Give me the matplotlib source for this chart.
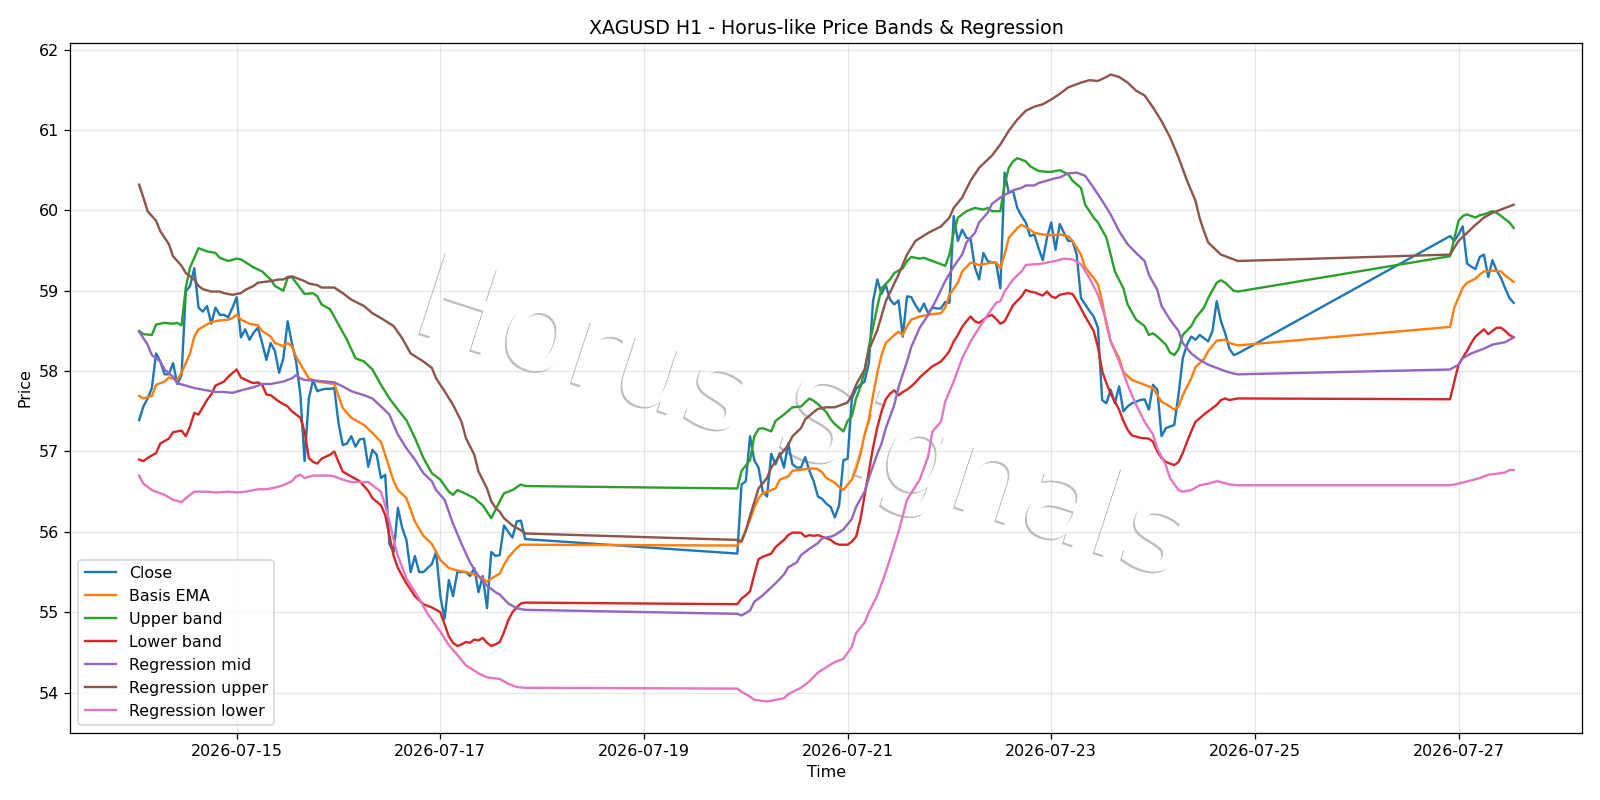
import matplotlib
matplotlib.use("Agg")
import pandas as pd
import matplotlib.pyplot as plt
import matplotlib.dates as mdates
import matplotlib.patheffects as pe

# ---- datos (horas desde 2026-07-14 00:00) ----
T0 = pd.Timestamp("2026-07-14 00:00")

close_hours = list(range(1, 93)) + list(range(142, 261)) + list(range(310, 326))
close_vals = [
    57.39, 57.56, 57.66, 57.79, 58.22, 58.12, 57.96, 57.96, 58.10, 57.84,
    57.95, 58.99, 59.06, 59.28, 58.79, 58.74, 58.81, 58.59, 58.79, 58.70,
    58.70, 58.67, 58.79, 58.92, 58.42, 58.52, 58.39, 58.48, 58.54, 58.35,
    58.14, 58.35, 58.25, 57.98, 58.16, 58.62, 58.35, 58.12, 57.71, 56.88,
    57.66, 57.89, 57.75, 57.77, 57.78, 57.78, 57.79, 57.35, 57.08, 57.10,
    57.19, 57.06, 57.15, 57.16, 56.81, 57.02, 56.96, 56.67, 56.71, 55.85,
    55.75, 56.30, 56.05, 55.90, 55.50, 55.70, 55.50, 55.50, 55.55, 55.60,
    55.75, 55.20, 54.92, 55.40, 55.20, 55.50, 55.50, 55.50, 55.45, 55.55,
    55.25, 55.45, 55.05, 55.75, 55.70, 55.71, 56.08, 56.00, 55.93, 56.13,
    56.14, 55.91,
    # semana 2
    55.73, 56.59, 56.63, 57.19, 56.89, 56.80, 56.50, 56.44, 56.97, 56.84,
    56.98, 56.80, 57.10, 56.84, 56.80, 56.80, 56.93, 56.76, 56.63, 56.44,
    56.41, 56.35, 56.31, 56.18, 56.33, 56.89, 56.91, 57.66, 57.78, 57.83,
    57.87, 58.10, 58.87, 59.14, 58.96, 59.07, 58.89, 58.83, 58.88, 58.43,
    58.93, 58.92, 58.82, 58.74, 58.84, 58.72, 58.79, 58.78, 58.78, 58.86,
    58.85, 59.93, 59.62, 59.76, 59.66, 59.64, 59.29, 59.14, 59.47, 59.37,
    59.35, 59.35, 59.03, 60.47, 60.22, 60.24, 60.03, 59.93, 59.85, 59.68,
    59.70, 59.53, 59.38, 59.66, 59.85, 59.51, 59.83, 59.72, 59.62, 59.62,
    59.45, 58.91, 58.83, 58.75, 58.68, 58.54, 57.64, 57.60, 57.77, 57.60,
    57.81, 57.50, 57.56, 57.60, 57.62, 57.64, 57.65, 57.52, 57.83, 57.77,
    57.19, 57.29, 57.31, 57.33, 57.71, 58.16, 58.33, 58.43, 58.39, 58.45,
    58.41, 58.37, 58.50, 58.87, 58.62, 58.47, 58.28, 58.20, 58.22,
    # semana 3
    59.68, 59.62, 59.70, 59.80, 59.34, 59.30, 59.27, 59.42, 59.45, 59.17,
    59.38, 59.25, 59.16, 59.03, 58.91, 58.85,
]

ema_pts = [
    (1, 57.69), (2, 57.66), (4, 57.69), (5, 57.83), (7, 57.87), (8, 57.92), (10, 57.89),
    (11, 57.98), (13, 58.22), (14, 58.43), (15, 58.52), (17, 58.58), (18, 58.61), (20, 58.63),
    (22, 58.64), (23, 58.66), (24, 58.70), (25, 58.64), (27, 58.59), (29, 58.57), (30, 58.50),
    (32, 58.43), (33, 58.35), (35, 58.31), (36, 58.35), (37, 58.31), (38, 58.18), (40, 58.00),
    (41, 57.91), (43, 57.87), (47, 57.84), (49, 57.54), (51, 57.42), (54, 57.33), (56, 57.23),
    (58, 57.12), (59, 56.96), (61, 56.63), (62, 56.52), (64, 56.42), (66, 56.13), (68, 55.95),
    (70, 55.85), (72, 55.65), (74, 55.55), (76, 55.52), (78, 55.50), (80, 55.47), (82, 55.42),
    (83, 55.38), (84, 55.42), (85, 55.45), (86, 55.48), (87, 55.59), (88, 55.68), (89, 55.74),
    (90, 55.80), (91, 55.84), (92, 55.84),
    (142, 55.83), (143, 55.90), (145, 56.15), (146, 56.30), (147, 56.42), (148, 56.48),
    (149, 56.50), (151, 56.54), (152, 56.65), (154, 56.69), (155, 56.76), (158, 56.78),
    (160, 56.79), (161, 56.78), (162, 56.74), (163, 56.67), (165, 56.61), (166, 56.56),
    (167, 56.52), (168, 56.59), (169, 56.65), (170, 56.78), (171, 56.96), (172, 57.21),
    (173, 57.40), (174, 57.70), (175, 57.98), (176, 58.20), (177, 58.35), (179, 58.45),
    (180, 58.49), (181, 58.45), (182, 58.56), (183, 58.64), (185, 58.68), (187, 58.70),
    (188, 58.71), (190, 58.72), (191, 58.79), (192, 58.95), (194, 59.10), (195, 59.24),
    (197, 59.35), (199, 59.32), (200, 59.33), (202, 59.35), (203, 59.35), (204, 59.28),
    (205, 59.45), (206, 59.66), (208, 59.78), (209, 59.82), (211, 59.76), (212, 59.72),
    (214, 59.70), (216, 59.69), (218, 59.70), (220, 59.68), (221, 59.62), (223, 59.45),
    (224, 59.29), (226, 59.16), (227, 59.08), (228, 58.87), (229, 58.58), (230, 58.37),
    (232, 58.16), (233, 57.99), (235, 57.89), (237, 57.85), (238, 57.83), (240, 57.79),
    (241, 57.70), (242, 57.62), (244, 57.56), (245, 57.52), (246, 57.56), (247, 57.70),
    (249, 57.91), (250, 58.05), (252, 58.15), (253, 58.25), (255, 58.38), (257, 58.39),
    (258, 58.35), (260, 58.32),
    (310, 58.55), (311, 58.79), (313, 59.04), (314, 59.10), (316, 59.15), (317, 59.20),
    (318, 59.24), (320, 59.25), (322, 59.24), (323, 59.19), (324, 59.15), (325, 59.11),
]

upper_pts = [
    (1, 58.50), (2, 58.46), (4, 58.45), (5, 58.58), (7, 58.60), (9, 58.59), (10, 58.60),
    (11, 58.57), (12, 59.04), (13, 59.29), (15, 59.53), (17, 59.49), (19, 59.47), (20, 59.41),
    (22, 59.37), (24, 59.40), (25, 59.39), (28, 59.29), (30, 59.24), (32, 59.14), (33, 59.06),
    (35, 59.00), (36, 59.16), (37, 59.17), (38, 59.10), (40, 58.96), (42, 58.97), (43, 58.93),
    (44, 58.83), (46, 58.77), (48, 58.58), (50, 58.39), (52, 58.16), (54, 58.12), (56, 58.02),
    (58, 57.83), (60, 57.66), (62, 57.52), (64, 57.39), (66, 57.17), (68, 56.92), (70, 56.73),
    (72, 56.65), (74, 56.50), (75, 56.46), (76, 56.52), (77, 56.50), (80, 56.42), (82, 56.33),
    (84, 56.17), (86, 56.38), (87, 56.48), (89, 56.52), (91, 56.59), (92, 56.57),
    (142, 56.54), (143, 56.76), (145, 56.89), (146, 57.19), (147, 57.28), (148, 57.29),
    (150, 57.25), (151, 57.38), (152, 57.42), (153, 57.46), (155, 57.55), (157, 57.56),
    (158, 57.61), (159, 57.66), (160, 57.63), (161, 57.59), (163, 57.49), (164, 57.40),
    (165, 57.34), (167, 57.25), (168, 57.38), (169, 57.44), (170, 57.66), (171, 57.80),
    (172, 58.00), (173, 58.30), (174, 58.55), (175, 58.80), (176, 59.03), (178, 59.14),
    (179, 59.22), (181, 59.28), (182, 59.37), (183, 59.42), (185, 59.40), (186, 59.41),
    (187, 59.39), (188, 59.37), (190, 59.33), (191, 59.31), (192, 59.45), (193, 59.72),
    (194, 59.91), (196, 59.99), (198, 60.03), (200, 60.01), (201, 60.03), (202, 59.99),
    (204, 59.99), (205, 60.32), (206, 60.53), (207, 60.61), (208, 60.65), (210, 60.61),
    (211, 60.55), (213, 60.49), (215, 60.48), (216, 60.48), (218, 60.50), (220, 60.45),
    (221, 60.37), (223, 60.28), (224, 60.07), (226, 59.91), (227, 59.85), (229, 59.66),
    (230, 59.45), (231, 59.24), (233, 59.03), (234, 58.83), (236, 58.64), (238, 58.56),
    (239, 58.45), (240, 58.47), (241, 58.43), (243, 58.33), (244, 58.23), (245, 58.20),
    (246, 58.27), (247, 58.45), (249, 58.56), (250, 58.66), (252, 58.79), (253, 58.91),
    (255, 59.10), (256, 59.13), (257, 59.10), (258, 59.05), (259, 59.00), (260, 58.99),
    (310, 59.43), (311, 59.65), (312, 59.87), (313, 59.93), (314, 59.95), (315, 59.93),
    (316, 59.91), (317, 59.94), (318, 59.95), (319, 59.97), (320, 59.99), (321, 59.97),
    (322, 59.93), (323, 59.89), (324, 59.85), (325, 59.78),
]

lower_pts = [
    (1, 56.90), (2, 56.88), (3, 56.92), (5, 56.98), (6, 57.10), (8, 57.16), (9, 57.24),
    (11, 57.26), (12, 57.19), (13, 57.31), (14, 57.48), (15, 57.46), (17, 57.64), (18, 57.71),
    (19, 57.82), (21, 57.87), (22, 57.93), (24, 58.02), (25, 57.92), (27, 57.87), (28, 57.85),
    (29, 57.86), (30, 57.83), (31, 57.71), (32, 57.70), (34, 57.62), (36, 57.56), (37, 57.50),
    (39, 57.42), (40, 57.25), (41, 56.92), (42, 56.87), (43, 56.85), (44, 56.91), (46, 56.96),
    (47, 57.00), (48, 56.87), (49, 56.75), (51, 56.69), (53, 56.63), (55, 56.51), (56, 56.42),
    (58, 56.33), (59, 56.21), (60, 55.95), (61, 55.70), (62, 55.55), (64, 55.36), (66, 55.20),
    (68, 55.10), (70, 55.06), (72, 55.00), (73, 54.85), (74, 54.70), (75, 54.62), (76, 54.58),
    (77, 54.60), (78, 54.63), (79, 54.62), (80, 54.66), (81, 54.65), (82, 54.68), (83, 54.62),
    (84, 54.58), (85, 54.60), (86, 54.63), (87, 54.75), (88, 54.90), (89, 55.00), (90, 55.06),
    (91, 55.11), (92, 55.12),
    (142, 55.10), (143, 55.17), (144, 55.21), (145, 55.26), (146, 55.47), (147, 55.66),
    (148, 55.69), (150, 55.73), (151, 55.81), (153, 55.90), (154, 55.96), (155, 55.99),
    (157, 55.99), (158, 55.94), (159, 55.96), (160, 55.95), (161, 55.96), (163, 55.92),
    (164, 55.90), (165, 55.86), (166, 55.84), (168, 55.84), (169, 55.88), (170, 55.94),
    (171, 56.15), (172, 56.45), (173, 56.75), (174, 57.05), (175, 57.30), (176, 57.50),
    (177, 57.65), (178, 57.72), (179, 57.76), (180, 57.70), (181, 57.74), (182, 57.77),
    (183, 57.81), (184, 57.86), (185, 57.92), (186, 57.97), (188, 58.06), (190, 58.12),
    (191, 58.18), (192, 58.25), (193, 58.37), (194, 58.45), (195, 58.55), (196, 58.62),
    (197, 58.68), (198, 58.62), (199, 58.60), (200, 58.64), (201, 58.68), (202, 58.70),
    (203, 58.65), (204, 58.59), (205, 58.62), (206, 58.72), (207, 58.82), (209, 58.93),
    (210, 59.01), (211, 58.99), (212, 58.98), (214, 58.94), (215, 58.99), (216, 58.93),
    (217, 58.91), (218, 58.95), (220, 58.97), (221, 58.96), (222, 58.88), (223, 58.78),
    (224, 58.68), (226, 58.50), (227, 58.30), (228, 58.00), (229, 57.85), (230, 57.72),
    (232, 57.52), (233, 57.38), (234, 57.27), (235, 57.20), (237, 57.17), (239, 57.16),
    (240, 57.12), (241, 57.00), (242, 56.92), (243, 56.87), (245, 56.83), (246, 56.87),
    (247, 56.98), (248, 57.12), (249, 57.25), (250, 57.37), (252, 57.46), (253, 57.50),
    (255, 57.58), (256, 57.64), (257, 57.66), (258, 57.64), (260, 57.66),
    (310, 57.65), (311, 57.87), (312, 58.08), (313, 58.17), (314, 58.25), (315, 58.35),
    (316, 58.43), (318, 58.52), (319, 58.46), (320, 58.50), (321, 58.54), (322, 58.54),
    (323, 58.50), (324, 58.45), (325, 58.42),
]

reg_mid_pts = [
    (1, 58.49), (3, 58.33), (4, 58.20), (6, 58.12), (7, 58.02), (9, 57.93), (10, 57.85),
    (12, 57.82), (14, 57.79), (17, 57.76), (19, 57.74), (21, 57.74), (23, 57.73), (25, 57.76),
    (28, 57.80), (30, 57.84), (32, 57.84), (35, 57.87), (37, 57.91), (38, 57.95), (39, 57.91),
    (40, 57.89), (43, 57.88), (47, 57.86), (49, 57.81), (51, 57.75), (54, 57.70), (56, 57.66),
    (58, 57.56), (60, 57.46), (61, 57.33), (62, 57.21), (64, 57.04), (66, 56.90), (68, 56.73),
    (70, 56.63), (71, 56.52), (73, 56.40), (74, 56.25), (75, 56.10), (77, 55.85), (79, 55.62),
    (81, 55.45), (83, 55.33), (85, 55.25), (86, 55.22), (88, 55.11), (90, 55.05), (92, 55.03),
    (142, 54.98), (143, 54.96), (145, 55.02), (146, 55.13), (148, 55.21), (149, 55.26),
    (151, 55.36), (153, 55.47), (154, 55.56), (156, 55.62), (157, 55.71), (159, 55.79),
    (161, 55.86), (162, 55.92), (164, 55.94), (165, 55.96), (167, 56.03), (169, 56.16),
    (170, 56.31), (172, 56.50), (173, 56.67), (175, 56.97), (176, 57.10), (177, 57.29),
    (179, 57.58), (180, 57.80), (182, 58.12), (183, 58.30), (185, 58.54), (187, 58.70),
    (189, 58.90), (191, 59.12), (193, 59.30), (195, 59.45), (196, 59.60), (198, 59.72),
    (199, 59.85), (201, 59.97), (202, 60.08), (204, 60.16), (206, 60.22), (207, 60.25),
    (209, 60.28), (210, 60.31), (212, 60.31), (213, 60.34), (215, 60.37), (217, 60.40),
    (218, 60.41), (220, 60.46), (222, 60.47), (224, 60.43), (226, 60.28), (228, 60.12),
    (230, 59.95), (232, 59.74), (234, 59.58), (236, 59.47), (238, 59.37), (239, 59.20),
    (241, 59.01), (242, 58.81), (244, 58.64), (246, 58.50), (247, 58.35), (249, 58.22),
    (251, 58.14), (253, 58.08), (255, 58.04), (257, 58.00), (259, 57.97), (260, 57.96),
    (310, 58.02), (312, 58.08), (313, 58.16), (315, 58.22), (318, 58.28), (320, 58.33),
    (323, 58.36), (324, 58.39), (325, 58.42),
]

reg_upper_pts = [
    (1, 60.32), (2, 60.16), (3, 59.99), (5, 59.87), (6, 59.74), (8, 59.58), (9, 59.43),
    (11, 59.31), (12, 59.22), (14, 59.14), (15, 59.06), (16, 59.02), (18, 58.99), (20, 58.99),
    (21, 58.97), (23, 58.95), (25, 58.97), (26, 59.01), (28, 59.06), (29, 59.10), (32, 59.12),
    (34, 59.14), (35, 59.14), (36, 59.17), (37, 59.18), (38, 59.16), (40, 59.12), (41, 59.09),
    (43, 59.07), (44, 59.04), (47, 59.04), (49, 58.97), (51, 58.89), (54, 58.81), (56, 58.72),
    (58, 58.66), (61, 58.56), (63, 58.41), (65, 58.22), (68, 58.12), (70, 58.04), (71, 57.91),
    (73, 57.75), (75, 57.58), (77, 57.37), (78, 57.17), (80, 56.96), (81, 56.75), (83, 56.54),
    (84, 56.38), (85, 56.30), (86, 56.25), (87, 56.17), (89, 56.08), (91, 56.02), (92, 55.98),
    (142, 55.90), (143, 55.88), (144, 56.01), (145, 56.20), (146, 56.37), (147, 56.54),
    (149, 56.67), (150, 56.80), (152, 56.95), (154, 57.08), (155, 57.19), (157, 57.29),
    (158, 57.40), (160, 57.49), (161, 57.53), (163, 57.55), (165, 57.55), (166, 57.57),
    (168, 57.61), (169, 57.70), (170, 57.83), (172, 58.02), (173, 58.26), (175, 58.51),
    (177, 58.87), (180, 59.20), (182, 59.45), (184, 59.62), (187, 59.72), (190, 59.80),
    (192, 59.91), (193, 60.03), (195, 60.16), (197, 60.37), (199, 60.53), (202, 60.68),
    (204, 60.82), (206, 60.99), (208, 61.13), (210, 61.24), (212, 61.29), (214, 61.32),
    (216, 61.38), (218, 61.45), (220, 61.53), (223, 61.59), (225, 61.62), (227, 61.61),
    (229, 61.66), (230, 61.69), (232, 61.66), (234, 61.59), (236, 61.49), (238, 61.43),
    (240, 61.28), (242, 61.11), (244, 60.91), (246, 60.66), (248, 60.37), (250, 60.12),
    (251, 59.90), (252, 59.74), (253, 59.60), (255, 59.50), (256, 59.45), (258, 59.41),
    (260, 59.37),
    (310, 59.45), (312, 59.62), (314, 59.72), (316, 59.82), (318, 59.91), (320, 59.97),
    (323, 60.03), (325, 60.07),
]

reg_lower_pts = [
    (1, 56.70), (2, 56.60), (4, 56.52), (7, 56.46), (9, 56.40), (11, 56.37), (12, 56.42),
    (14, 56.50), (17, 56.50), (19, 56.49), (22, 56.50), (24, 56.49), (26, 56.50), (29, 56.53),
    (31, 56.53), (33, 56.55), (35, 56.58), (37, 56.63), (38, 56.69), (39, 56.71), (40, 56.67),
    (42, 56.70), (46, 56.70), (47, 56.69), (49, 56.65), (51, 56.62), (55, 56.62), (56, 56.58),
    (58, 56.50), (59, 56.33), (60, 56.13), (61, 55.90), (62, 55.70), (64, 55.42), (67, 55.17),
    (69, 54.98), (72, 54.76), (74, 54.59), (76, 54.47), (78, 54.34), (81, 54.24), (83, 54.19),
    (86, 54.17), (88, 54.11), (90, 54.07), (92, 54.06),
    (142, 54.05), (143, 54.01), (145, 53.95), (146, 53.91), (149, 53.89), (151, 53.91),
    (153, 53.93), (154, 53.98), (157, 54.06), (159, 54.14), (161, 54.25), (164, 54.35),
    (165, 54.38), (167, 54.42), (169, 54.57), (170, 54.74), (172, 54.87), (173, 55.00),
    (175, 55.21), (177, 55.50), (180, 56.00), (182, 56.40), (185, 56.65), (187, 56.94),
    (188, 57.25), (190, 57.37), (191, 57.62), (193, 57.87), (195, 58.16), (197, 58.37),
    (199, 58.54), (201, 58.70), (203, 58.85), (204, 58.87), (205, 58.99), (207, 59.14),
    (209, 59.24), (210, 59.32), (212, 59.33), (213, 59.33), (215, 59.35), (217, 59.37),
    (219, 59.40), (221, 59.39), (223, 59.33), (225, 59.16), (227, 58.95), (229, 58.62),
    (230, 58.37), (232, 58.12), (234, 57.83), (236, 57.58), (238, 57.37), (240, 57.21),
    (241, 57.04), (243, 56.83), (244, 56.67), (246, 56.52), (247, 56.50), (249, 56.52),
    (251, 56.58), (253, 56.60), (255, 56.63), (256, 56.62), (258, 56.59), (260, 56.58),
    (310, 56.58), (312, 56.60), (315, 56.64), (317, 56.67), (319, 56.71), (322, 56.73),
    (323, 56.74), (324, 56.77), (325, 56.77),
]

series = [
    ("Close", close_hours, close_vals),
    ("Basis EMA", *zip(*ema_pts)),
    ("Upper band", *zip(*upper_pts)),
    ("Lower band", *zip(*lower_pts)),
    ("Regression mid", *zip(*reg_mid_pts)),
    ("Regression upper", *zip(*reg_upper_pts)),
    ("Regression lower", *zip(*reg_lower_pts)),
]


def horas_a_fecha(horas):
    return T0 + pd.to_timedelta(list(horas), unit="h")


DPI = 1600 / 14
fig, ax = plt.subplots(figsize=(14, 7), dpi=DPI)

for nombre, horas, valores in series:
    ax.plot(horas_a_fecha(horas), list(valores), label=nombre, linewidth=1.5)

# marca de agua
ax.text(0.483, 0.45, "Horus Signals", transform=ax.transAxes, fontsize=74,
        color="white", rotation=-18, ha="center", va="center", zorder=1,
        path_effects=[pe.withSimplePatchShadow(offset=(-1.2, -1.2),
                                               shadow_rgbFace="0.55", alpha=0.55),
                      pe.Normal()])

ax.set_title("XAGUSD H1 - Horus-like Price Bands & Regression")
ax.set_xlabel("Time")
ax.set_ylabel("Price")
ax.xaxis.set_major_locator(mdates.DayLocator(bymonthday=range(1, 32, 2)))
ax.xaxis.set_major_formatter(mdates.DateFormatter("%Y-%m-%d"))
ax.grid(alpha=0.3)
ax.legend(loc="lower left")

fig.subplots_adjust(left=0.044, right=0.989, top=0.946, bottom=0.084)
fig.savefig("out.png", dpi=DPI)
